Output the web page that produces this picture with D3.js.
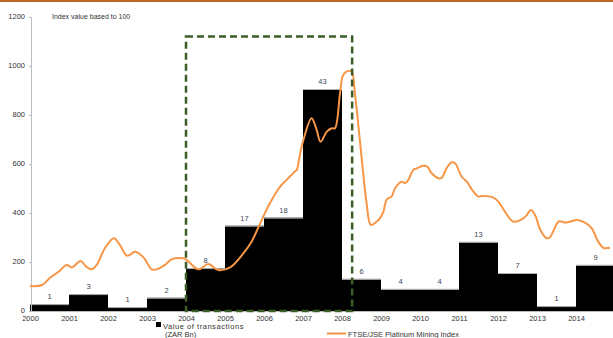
<!DOCTYPE html>
<html><head><meta charset="utf-8">
<script src="https://cdn.jsdelivr.net/npm/d3@7"></script>
<style>
html,body{margin:0;padding:0;background:#fff;}
svg{display:block;font-family:"Liberation Sans",Arial,sans-serif;}
</style></head>
<body>
<svg id="c" width="613" height="338"></svg>
<script>
// ---- data ----
const years = [2000,2001,2002,2003,2004,2005,2006,2007,2008,2009,2010,2011,2012,2013,2014];
const txValue = [28,69,16,54,175,348,381,906,131,90,90,282,155,20,188];
const txCount = [1,3,1,2,8,17,18,43,6,4,4,13,7,1,9];
const yTicks = [0,200,400,600,800,1000,1200];
const idxDate = [2000.00,2000.31,2000.51,2000.73,2000.94,2001.07,2001.30,2001.44,2001.58,2001.71,2001.92,2002.15,2002.29,2002.48,2002.56,2002.69,2002.91,2003.12,2003.25,2003.46,2003.63,2003.93,2004.02,2004.32,2004.57,2004.83,2005.13,2005.47,2005.68,2005.94,2006.15,2006.41,2006.58,2006.79,2006.84,2006.92,2007.01,2007.22,2007.35,2007.45,2007.61,2007.74,2007.82,2007.95,2008.03,2008.16,2008.25,2008.33,2008.51,2008.63,2008.74,2008.89,2008.97,2009.06,2009.15,2009.27,2009.36,2009.53,2009.62,2009.70,2009.83,2009.92,2010.08,2010.19,2010.30,2010.47,2010.56,2010.68,2010.81,2010.90,2011.07,2011.20,2011.37,2011.50,2011.58,2011.88,2012.01,2012.18,2012.39,2012.61,2012.74,2012.84,2012.95,2013.08,2013.25,2013.33,2013.55,2013.63,2013.72,2013.85,2014.02,2014.23,2014.40,2014.57,2014.70,2014.87];
const idxValue = [102,106,135,160,188,178,204,181,170,188,256,297,273,226,229,242,219,170,170,188,211,215,208,170,192,167,178,235,283,371,440,507,535,569,576,637,698,787,739,691,732,746,746,889,963,980,977,889,616,440,351,365,378,405,456,467,501,528,521,535,576,582,593,589,562,542,544,582,607,603,548,528,487,467,469,463,446,405,365,374,392,412,392,333,297,301,365,365,361,365,371,361,338,283,258,258];
const focusPeriod = {start:2004, end:2008.26, top:1120};
const yAxisTitle = "Index value based to 100";
const legendBar = ["Value of transactions","(ZAR Bn)"];
const legendLine = "FTSE/JSE Platinum Mining Index";

// ---- drawing ----
const svg = d3.select("#c");
const x = d3.scaleLinear().domain([2000,2015]).range([30,615]);
const y = d3.scaleLinear().domain([0,1200]).range([311,17]);

// top border line
svg.append("line").attr("x1",0).attr("x2",613).attr("y1",1).attr("y2",1)
  .attr("stroke","#b8662a").attr("stroke-width",2);

// bars
const bars = svg.append("g");
years.forEach((yr,i)=>{
  bars.append("rect").attr("x",x(yr)).attr("width",x(yr+1)-x(yr))
    .attr("y",y(txValue[i])).attr("height",y(0)-y(txValue[i])).attr("fill","#000");
  bars.append("line").attr("x1",x(yr)).attr("x2",x(yr+1))
    .attr("y1",y(txValue[i])+0.5).attr("y2",y(txValue[i])+0.5)
    .attr("stroke","#b0b0b0").attr("stroke-width",1);
  bars.append("text").attr("x",(x(yr)+x(yr+1))/2).attr("y",y(txValue[i])-5)
    .attr("text-anchor","middle").attr("font-size",7.5).attr("fill","#3a4656")
    .text(txCount[i]);
});

// axes
const yAx = svg.append("g").attr("transform","translate(31,0)")
  .call(d3.axisLeft(y).tickValues(yTicks).tickSize(2).tickPadding(4).tickFormat(d3.format("d")));
yAx.select(".domain").attr("stroke","#bdbdbd");
yAx.selectAll(".tick line").attr("stroke","#bdbdbd");
yAx.selectAll("text").attr("font-size",7.5).attr("fill","#333").attr("font-family","Liberation Sans, Arial, sans-serif")
  .attr("dy","0.2em");

const xAx = svg.append("g").attr("transform","translate(0,311)")
  .call(d3.axisBottom(x).tickValues(years).tickSize(0).tickPadding(4.5).tickFormat(d3.format("d")));
xAx.select(".domain").attr("stroke","#bdbdbd");
xAx.selectAll("text").attr("font-size",7.5).attr("fill","#333").attr("font-family","Liberation Sans, Arial, sans-serif");

// index line
const line = d3.line().x((d,i)=>x(idxDate[i])).y(d=>y(d)).curve(d3.curveCatmullRom.alpha(0.5));
svg.append("path").datum(idxValue).attr("d",line).attr("fill","none")
  .attr("stroke","#f79646").attr("stroke-width",2);

// focus box
svg.append("rect").attr("x",x(focusPeriod.start)).attr("y",y(focusPeriod.top))
  .attr("width",x(focusPeriod.end)-x(focusPeriod.start)).attr("height",y(0)-y(focusPeriod.top))
  .attr("fill","none").attr("stroke","#3b5e26").attr("stroke-width",2.5).attr("stroke-dasharray","7,4");

// y title
svg.append("text").attr("x",52).attr("y",19).attr("font-size",7).attr("fill","#333").text(yAxisTitle);

// legend
svg.append("rect").attr("x",156).attr("y",322).attr("width",5).attr("height",5).attr("fill","#000");
svg.append("text").attr("x",163).attr("y",329).attr("font-size",7.5).attr("fill","#333").attr("letter-spacing",0.55).text(legendBar[0]);
svg.append("text").attr("x",165).attr("y",336.5).attr("font-size",7.5).attr("fill","#333").text(legendBar[1]);
svg.append("line").attr("x1",327).attr("x2",346).attr("y1",333.5).attr("y2",333.5).attr("stroke","#f79646").attr("stroke-width",2);
svg.append("text").attr("x",348).attr("y",336.5).attr("font-size",7.5).attr("fill","#333").attr("letter-spacing",0).text(legendLine);
</script>
</body></html>
